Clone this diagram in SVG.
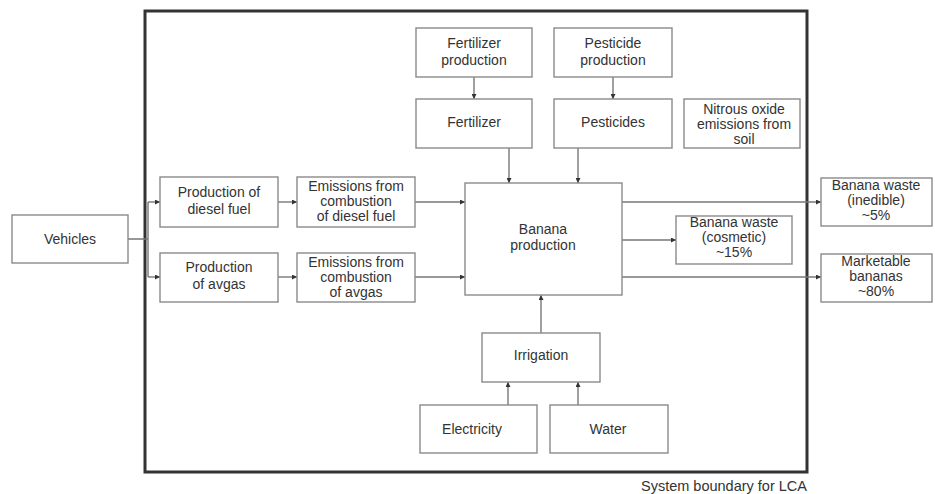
<svg xmlns="http://www.w3.org/2000/svg" width="935" height="494" viewBox="0 0 935 494">
<defs>
<style>
.b{fill:#fff;stroke:#8a8a8a;stroke-width:1.4}
.t{font-family:"Liberation Sans",Arial,sans-serif;font-size:14px;fill:#333;text-anchor:middle}
.c{fill:none;stroke:#777;stroke-width:1.4}
</style>
<marker id="a" viewBox="0 0 10 10" refX="10" refY="5" markerWidth="5" markerHeight="5" orient="auto" markerUnits="userSpaceOnUse">
<path d="M0,0L10,5L0,10z" fill="#333"/>
</marker>
</defs>
<rect width="935" height="494" fill="#fff"/>
<rect id="boundary" x="145" y="11" width="662" height="461" fill="none" stroke="#333" stroke-width="3"/>
<text class="t" x="807" y="491" style="text-anchor:end;font-size:14.5px">System boundary for LCA</text>

<g id="connectors">
<path class="c" d="M128,239H148M148,202V277"/>
<path class="c" d="M148,202H160" marker-end="url(#a)"/>
<path class="c" d="M148,277H160" marker-end="url(#a)"/>
<path class="c" d="M278,202H297" marker-end="url(#a)"/>
<path class="c" d="M278,277H297" marker-end="url(#a)"/>
<path class="c" d="M415,202H465" marker-end="url(#a)"/>
<path class="c" d="M415,277H465" marker-end="url(#a)"/>
<path class="c" d="M474,77V99" marker-end="url(#a)"/>
<path class="c" d="M613,77V99" marker-end="url(#a)"/>
<path class="c" d="M509,148V183" marker-end="url(#a)"/>
<path class="c" d="M578,148V183" marker-end="url(#a)"/>
<path class="c" d="M622,202H821" marker-end="url(#a)"/>
<path class="c" d="M622,240H676" marker-end="url(#a)"/>
<path class="c" d="M622,277H821" marker-end="url(#a)"/>
<path class="c" d="M541,333V295" marker-end="url(#a)"/>
<path class="c" d="M508,405V382" marker-end="url(#a)"/>
<path class="c" d="M578,405V382" marker-end="url(#a)"/>
</g>

<g id="vehicles"><rect class="b" x="12" y="215" width="116" height="48"/><text class="t" x="70" y="244">Vehicles</text></g>
<g id="prod-diesel"><rect class="b" x="160" y="177" width="118" height="50"/><text class="t" x="219" y="197">Production of</text><text class="t" x="219" y="214">diesel fuel</text></g>
<g id="prod-avgas"><rect class="b" x="160" y="253" width="118" height="49"/><text class="t" x="219" y="272">Production</text><text class="t" x="219" y="289">of avgas</text></g>
<g id="em-diesel"><rect class="b" x="297" y="177" width="118" height="50"/><text class="t" x="356" y="191">Emissions from</text><text class="t" x="356" y="206">combustion</text><text class="t" x="356" y="221">of diesel fuel</text></g>
<g id="em-avgas"><rect class="b" x="297" y="253" width="118" height="49"/><text class="t" x="356" y="267">Emissions from</text><text class="t" x="356" y="282">combustion</text><text class="t" x="356" y="297">of avgas</text></g>
<g id="banana"><rect class="b" x="465" y="183" width="157" height="112"/><text class="t" x="543" y="234">Banana</text><text class="t" x="543" y="250">production</text></g>
<g id="fert-prod"><rect class="b" x="416" y="28" width="116" height="49"/><text class="t" x="474" y="48">Fertilizer</text><text class="t" x="474" y="65">production</text></g>
<g id="pest-prod"><rect class="b" x="554" y="28" width="118" height="49"/><text class="t" x="613" y="48">Pesticide</text><text class="t" x="613" y="65">production</text></g>
<g id="fert"><rect class="b" x="416" y="99" width="116" height="49"/><text class="t" x="474" y="127">Fertilizer</text></g>
<g id="pest"><rect class="b" x="554" y="99" width="118" height="49"/><text class="t" x="613" y="127">Pesticides</text></g>
<g id="nitrous"><rect class="b" x="684" y="99" width="116" height="49"/><text class="t" x="744" y="114">Nitrous oxide</text><text class="t" x="744" y="129">emissions from</text><text class="t" x="744" y="144">soil</text></g>
<g id="waste-inedible"><rect class="b" x="821" y="178" width="111" height="48"/><text class="t" x="876" y="190">Banana waste</text><text class="t" x="876" y="205">(inedible)</text><text class="t" x="876" y="220">~5%</text></g>
<g id="waste-cosmetic"><rect class="b" x="676" y="216" width="116" height="48"/><text class="t" x="734" y="227">Banana waste</text><text class="t" x="734" y="242">(cosmetic)</text><text class="t" x="734" y="257">~15%</text></g>
<g id="marketable"><rect class="b" x="821" y="254" width="111" height="48"/><text class="t" x="876" y="266">Marketable</text><text class="t" x="876" y="281">bananas</text><text class="t" x="876" y="296">~80%</text></g>
<g id="irrigation"><rect class="b" x="482" y="333" width="118" height="49"/><text class="t" x="541" y="360">Irrigation</text></g>
<g id="electricity"><rect class="b" x="420" y="405" width="117" height="48"/><text class="t" x="472" y="434">Electricity</text></g>
<g id="water"><rect class="b" x="550" y="405" width="118" height="48"/><text class="t" x="608" y="434">Water</text></g>
</svg>
